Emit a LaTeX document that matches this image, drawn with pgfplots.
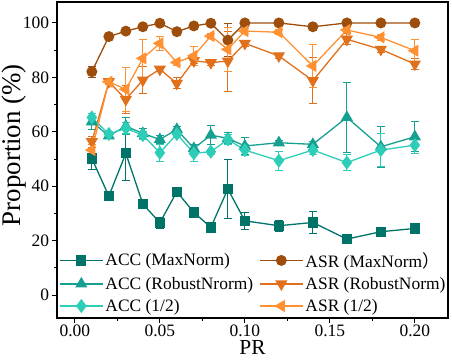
\documentclass[border=0pt]{standalone}
\usepackage{fontspec}
\setmainfont{Liberation Serif}
\newfontfamily\cjk{Noto Sans CJK SC}
\usepackage{pgfplots}
\pgfplotsset{compat=1.18}
\usetikzlibrary{calc}
\definecolor{accmax}{RGB}{0,115,105}
\definecolor{accrob}{RGB}{22,160,145}
\definecolor{acchalf}{RGB}{46,205,184}
\definecolor{asrmax}{RGB}{158,78,12}
\definecolor{asrrob}{RGB}{224,112,28}
\definecolor{asrhalf}{RGB}{255,145,50}
\begin{document}
\begin{tikzpicture}
\begin{axis}[
  scale only axis, width=391bp, height=316bp,
  xmin=-0.0105, xmax=0.2195, ymin=-8.4, ymax=107.7,
  axis line style={line width=1.2bp},
  tick align=outside, xtick pos=bottom, ytick pos=left,
  major tick length=4.5bp, minor tick length=2.5bp,
  tick style={line width=1bp, black},
  xtick={0,0.05,0.10,0.15,0.20}, minor x tick num=1,
  ytick={0,20,40,60,80,100}, minor y tick num=1,
  /pgf/number format/assume math mode=true,
  xticklabel style={/pgf/number format/fixed, /pgf/number format/fixed zerofill, /pgf/number format/precision=2, font=\fontsize{17.5}{20}\selectfont, yshift=1.5bp},
  yticklabel style={font=\fontsize{17.5}{20}\selectfont},
  scaled x ticks=false,
  xlabel={PR}, ylabel={Proportion (\%)},
  xlabel style={font=\fontsize{21.5}{24}\selectfont, at={(axis description cs:0.5,-0.117)}, anchor=base, inner sep=0pt},
  ylabel style={font=\fontsize{27}{30}\selectfont, at={(axis description cs:-0.110,0.547)}, anchor=center},
  legend columns=2,
  legend style={draw=none, fill=none, at={(axis description cs:0.0,0.0)}, anchor=south west,
    font=\fontsize{17.5}{20}\selectfont, inner xsep=2bp, inner ysep=3bp, row sep=4.5bp,
    /tikz/every even column/.append style={column sep=4bp}},
  legend cell align=left,
  legend image code/.code={\draw[mark repeat=2,mark phase=2] plot coordinates {(0bp,0bp) (21.5bp,0bp) (43bp,0bp)};},
  every axis plot/.append style={line width=1.3bp},
  error bars/y dir=both, error bars/y explicit,
  error bars/error bar style={line width=0.9bp},
  error bars/error mark options={rotate=90, mark size=4bp, line width=0.9bp},
]
\addplot[color=accmax, mark=square*, mark size=4.5bp, mark options={solid}] coordinates {
(0.01,50.2) +- (0,4)
(0.02,36.4) +- (0,1)
(0.03,52.1) +- (0,10)
(0.04,33.5) +- (0,1)
(0.05,26.6) +- (0,2)
(0.06,38.0) +- (0,1)
(0.07,30.4) +- (0,1)
(0.08,24.9) +- (0,1)
(0.09,39.0) +- (0,11)
(0.10,27.3) +- (0,3)
(0.12,25.5) +- (0,2)
(0.14,26.7) +- (0,4)
(0.16,20.6) +- (0,1)
(0.18,23.3) +- (0,1.5)
(0.20,24.5) +- (0,1)
};
\addlegendentry{ACC (MaxNorm)}
\addplot[color=asrmax, mark=*, mark size=4.8bp] coordinates {
(0.01,82.1) +- (0,2)
(0.02,95.0) +- (0,1)
(0.03,97.0) +- (0,1)
(0.04,98.6) +- (0,1)
(0.05,99.9) +- (0,1)
(0.06,96.8) +- (0,1)
(0.07,98.9) +- (0,1)
(0.08,99.9) +- (0,1)
(0.09,93.7) +- (0,6)
(0.10,100) +- (0,1)
(0.12,100) +- (0,1)
(0.14,98.6) +- (0,1)
(0.16,100) +- (0,1)
(0.18,100) +- (0,1)
(0.20,100) +- (0,1)
};
\addlegendentry{ASR (MaxNorm{\cjk ）}}
\addplot[color=accrob, mark=triangle*, mark size=5.8bp] coordinates {
(0.01,63.7) +- (0,3)
(0.02,58.5) +- (0,1)
(0.03,62.1) +- (0,3)
(0.04,59.4) +- (0,2)
(0.05,57.2) +- (0,1.5)
(0.06,60.9) +- (0,1)
(0.07,53.9) +- (0,1.5)
(0.08,58.8) +- (0,3.5)
(0.09,57.6) +- (0,2)
(0.10,54.8) +- (0,3)
(0.12,56.0) +- (0,1)
(0.14,55.4) +- (0,1)
(0.16,65.3) +- (0,13)
(0.18,54.5) +- (0,7.5)
(0.20,58.2) +- (0,5.5)
};
\addlegendentry{ACC (RobustNrorm)}
\addplot[color=asrrob, mark=triangle*, mark size=5.8bp, mark options={rotate=180}] coordinates {
(0.01,56.4) +- (0,2)
(0.02,78.4) +- (0,1)
(0.03,71.9) +- (0,5)
(0.04,79.0) +- (0,5)
(0.05,83.0) +- (0,1)
(0.06,77.8) +- (0,2)
(0.07,86.1) +- (0,1)
(0.08,85.4) +- (0,1)
(0.09,86.0) +- (0,11)
(0.10,92.5) +- (0,1)
(0.12,87.9) +- (0,1)
(0.14,78.8) +- (0,8.5)
(0.16,94.0) +- (0,2)
(0.18,90.3) +- (0,1)
(0.20,84.9) +- (0,2)
};
\addlegendentry{ASR (RobustNorm)}
\addplot[color=acchalf, mark=diamond*, mark size=6bp] coordinates {
(0.01,65.3) +- (0,1.5)
(0.02,59.2) +- (0,1)
(0.03,61.3) +- (0,2)
(0.04,58.8) +- (0,1.5)
(0.05,52.3) +- (0,3)
(0.06,59.2) +- (0,1)
(0.07,52.1) +- (0,3)
(0.08,52.7) +- (0,1)
(0.09,57.2) +- (0,2)
(0.10,53.3) +- (0,2)
(0.12,49.4) +- (0,3.5)
(0.14,53.3) +- (0,1.5)
(0.16,48.7) +- (0,3)
(0.18,53.3) +- (0,6)
(0.20,55.1) +- (0,3)
};
\addlegendentry{ACC (1/2)}
\addplot[color=asrhalf, mark=triangle*, mark size=5.8bp, mark options={rotate=90}] coordinates {
(0.01,53.3) +- (0,2)
(0.02,78.4) +- (0,1)
(0.03,75.6) +- (0,8)
(0.04,87.0) +- (0,7)
(0.05,92.5) +- (0,2.5)
(0.06,85.5) +- (0,1)
(0.07,87.9) +- (0,3.5)
(0.08,95.2) +- (0,1)
(0.09,90.3) +- (0,8)
(0.10,97.0) +- (0,1)
(0.12,96.6) +- (0,1)
(0.14,84.2) +- (0,8)
(0.16,97.4) +- (0,1)
(0.18,94.7) +- (0,1)
(0.20,89.8) +- (0,4)
};
\addlegendentry{ASR (1/2)}
\end{axis}
\pgfresetboundingbox
\path[use as bounding box] ($(current axis.south west)+(-57bp,-42bp)$) rectangle ($(current axis.north east)+(4bp,2bp)$);
\end{tikzpicture}
\end{document}
